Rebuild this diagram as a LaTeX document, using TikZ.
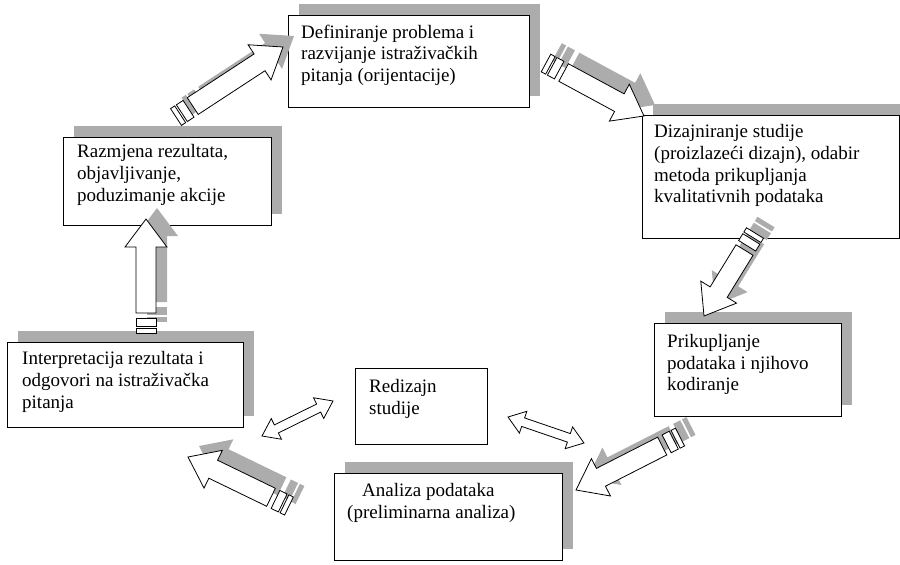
\documentclass[tikz,border=0pt]{standalone}
\usepackage{fontspec}
\setmainfont{Liberation Serif}
\usetikzlibrary{positioning,shadows}

\definecolor{shadegray}{RGB}{172,172,172}

\tikzset{
  stage/.style={draw, fill=white, line width=0.8pt, anchor=north west,
    inner sep=0pt},
  shaded stage/.style={stage,
    general shadow={fill=shadegray, shadow xshift=11pt, shadow yshift=11pt}},
  stage text/.style={align=left, inner sep=0pt,
    font=\fontsize{19}{21.7}\selectfont},
  arrow body/.style={draw, fill=white, line width=0.8pt, line join=miter},
  arrow shade/.style={fill=shadegray}
}

\newcommand\arrowsetup[2]{%
  \pgfpointanchor{#1}{center}\pgfgetlastxy\tailx\taily
  \pgfpointanchor{#2}{center}\pgfgetlastxy\tipx\tipy
  \pgfmathsetmacro\arrowangle{atan2((\tipy)-(\taily),(\tipx)-(\tailx))}%
  \pgfmathsetmacro\arrowlen{veclen((\tipx)-(\tailx),(\tipy)-(\taily))}%
}
\newcommand\stripedpiece[3]{%
  \begin{scope}[shift={(\tailx+#1,\taily+#2)}, rotate=\arrowangle,
      x=1pt, y=1pt]
    \path[#3] (0,-10) rectangle (5,10);
    \path[#3] (7,-10) rectangle (15,10);
    \path[#3]
      (20,-10) -- (\arrowlen-28,-10) -- (\arrowlen-28,-21)
      -- (\arrowlen,0)
      -- (\arrowlen-28,21) -- (\arrowlen-28,10) -- (20,10)
      -- cycle;
  \end{scope}}
\newcommand\stripedarrow[2]{%
  \arrowsetup{#1}{#2}%
  \stripedpiece{11pt}{11pt}{arrow shade}%
  \stripedpiece{0pt}{0pt}{arrow body}}
\newcommand\twowayarrow[2]{%
  \arrowsetup{#1}{#2}%
  \begin{scope}[shift={(\tailx,\taily)}, rotate=\arrowangle, x=1pt, y=1pt]
    \path[arrow body]
      (0,0) -- (16,11.5) -- (16,4.5) -- (\arrowlen-16,4.5)
      -- (\arrowlen-16,11.5) -- (\arrowlen,0) -- (\arrowlen-16,-11.5)
      -- (\arrowlen-16,-4.5) -- (16,-4.5) -- (16,-11.5)
      -- cycle;
  \end{scope}}

\begin{document}
\begin{tikzpicture}[x=1pt, y=-1pt]
  \useasboundingbox (0,0) rectangle (900,565);

  \node (definiranje) [shaded stage, minimum width=241pt, minimum height=92pt]
    at (288,15) {};
  \node (dizajniranje) [shaded stage, minimum width=257pt, minimum height=123pt]
    at (642,115) {};
  \node (prikupljanje) [shaded stage, minimum width=187pt, minimum height=93pt]
    at (654,323) {};
  \node (analiza) [shaded stage, minimum width=228pt, minimum height=87pt]
    at (334,473) {};
  \node (interpretacija) [shaded stage, minimum width=236pt, minimum height=85pt]
    at (7,342) {};
  \node (razmjena) [shaded stage, minimum width=208pt, minimum height=88pt]
    at (63,137) {};
  \node (redizajn) [stage, minimum width=132pt, minimum height=76pt]
    at (355,368) {};

  \node (definiranje text) [stage text,
    below right=9.5pt and 13pt of definiranje.north west]
    {Definiranje problema i\\razvijanje istraživačkih\\pitanja (orijentacije)};
  \node (dizajniranje text) [stage text,
    below right=9.5pt and 12pt of dizajniranje.north west]
    {Dizajniranje studije\\(proizlazeći dizajn), odabir\\metoda prikupljanja\\kvalitativnih podataka};
  \node (prikupljanje text) [stage text,
    below right=11pt and 13pt of prikupljanje.north west]
    {Prikupljanje\\podataka i njihovo\\kodiranje};
  \node (analiza text) [stage text,
    below right=10.5pt and 13pt of analiza.north west]
    {\hspace*{15pt}Analiza podataka\\(preliminarna analiza)};
  \node (interpretacija text) [stage text,
    below right=9.5pt and 15pt of interpretacija.north west]
    {Interpretacija rezultata i\\odgovori na istraživačka\\pitanja};
  \node (razmjena text) [stage text,
    below right=7.5pt and 14pt of razmjena.north west]
    {Razmjena rezultata,\\objavljivanje,\\poduzimanje akcije};
  \node (redizajn text) [stage text,
    below right=11.5pt and 14pt of redizajn.north west]
    {Redizajn\\studije};

  \coordinate (share tail) at (176,117);
  \coordinate (share tip) at (283,47);
  \coordinate (define tail) at (546,63);
  \coordinate (define tip) at (644,116);
  \coordinate (design tail) at (755,233);
  \coordinate (design tip) at (704,316);
  \coordinate (collect tail) at (680,437);
  \coordinate (collect tip) at (576,490);
  \coordinate (analyse tail) at (289,506);
  \coordinate (analyse tip) at (188,457);
  \coordinate (interpret tail) at (146,333);
  \coordinate (interpret tip) at (146,219);

  \stripedarrow{share tail}{share tip}
  \stripedarrow{define tail}{define tip}
  \stripedarrow{design tail}{design tip}
  \stripedarrow{collect tail}{collect tip}
  \stripedarrow{analyse tail}{analyse tip}
  \stripedarrow{interpret tail}{interpret tip}

  \coordinate (redesign west) at (262,436);
  \coordinate (redesign nw) at (333,401);
  \coordinate (redesign east) at (584,443);
  \coordinate (redesign ne) at (508,417);

  \twowayarrow{redesign west}{redesign nw}
  \twowayarrow{redesign ne}{redesign east}
\end{tikzpicture}
\end{document}
